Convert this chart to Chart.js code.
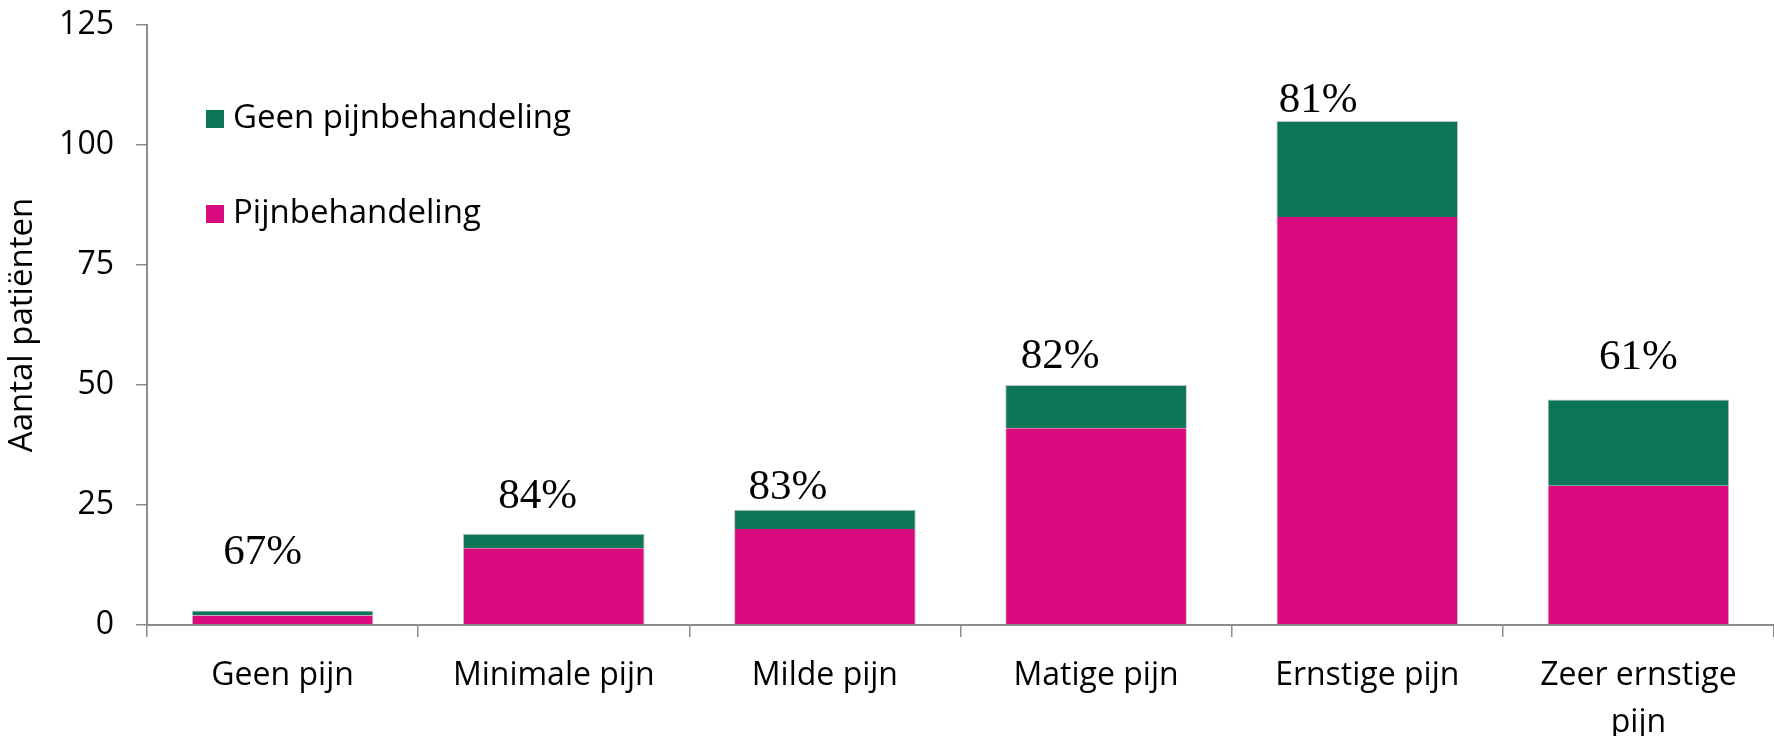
<!DOCTYPE html>
<html>
<head>
<meta charset="utf-8">
<script src="https://cdn.jsdelivr.net/npm/chart.js@4/dist/chart.umd.min.js"></script>
<style>
  html, body { margin: 0; padding: 0; background: #fff; }
  #wrap { width: 1774px; height: 736px; }
</style>
</head>
<body>
<div id="wrap"><canvas id="chart"></canvas></div>
<script>
// pijnscore-categorieën en aantallen patiënten
const CATEGORIES = ["Geen pijn", "Minimale pijn", "Milde pijn", "Matige pijn", "Ernstige pijn", ["Zeer ernstige", "pijn"]]
const PIJNBEHANDELING = [2, 16, 20, 41, 85, 29]
const GEEN_BEHANDELING = [1, 3, 4, 9, 20, 18]
const PERCENTAGES = ["67%", "84%", "83%", "82%", "81%", "61%"]
const Y_TICKS = [0, 25, 50, 75, 100, 125]

const PINK = "#da0b7f"
const GREEN = "#0c7557"
const AXIS = "#8c8c8c"
const EDGE = "#c6c6c6"
const SANS = "'Open Sans', sans-serif"

// percentage boven elke stapel; kleine verschuivingen per kolom in px
const pctLabels = {
  id: "pctLabels",
  afterDatasetsDraw(chart, args, opts) {
    const { ctx } = chart
    const top = chart.getDatasetMeta(1)
    ctx.save()
    ctx.font = "43px 'Liberation Serif', 'DejaVu Serif', serif"
    ctx.fillStyle = "#000"
    ctx.textAlign = "center"
    ctx.textBaseline = "middle"
    top.data.forEach((bar, i) => {
      const [dx, dy] = opts.nudge[i]
      ctx.fillText(PERCENTAGES[i], bar.x + dx, bar.y - dy)
    })
    ctx.restore()
  },
}

// legenda binnen het plotvlak, groen boven roze
const innerLegend = {
  id: "innerLegend",
  afterDraw(chart) {
    const { ctx } = chart
    const items = [chart.data.datasets[1], chart.data.datasets[0]]
    ctx.save()
    ctx.font = "33px " + SANS
    ctx.textBaseline = "middle"
    items.forEach((ds, i) => {
      const y = 119 + i * 95
      ctx.fillStyle = ds.backgroundColor
      ctx.fillRect(206, y - 9, 18, 18)
      ctx.fillStyle = "#000"
      ctx.fillText(ds.label, 233, y)
    })
    ctx.restore()
  },
}

new Chart(document.getElementById("chart"), {
  type: "bar",
  data: {
    labels: CATEGORIES,
    datasets: [
      {
        label: "Pijnbehandeling",
        data: PIJNBEHANDELING,
        backgroundColor: PINK,
        borderColor: EDGE,
        borderWidth: { left: 1, right: 1, top: 0, bottom: 0 },
        borderSkipped: false,
      },
      {
        label: "Geen pijnbehandeling",
        data: GEEN_BEHANDELING,
        backgroundColor: GREEN,
        borderColor: EDGE,
        borderWidth: { left: 1, right: 1, top: 1, bottom: 0 },
        borderSkipped: false,
      },
    ],
  },
  options: {
    responsive: true,
    maintainAspectRatio: false,
    animation: false,
    layout: { padding: { top: 25, right: 0, left: 0, bottom: 0 } },
    datasets: { bar: { categoryPercentage: 1, barPercentage: 0.67 } },
    plugins: {
      legend: { display: false },
      tooltip: { enabled: false },
      pctLabels: { nudge: [[-20, 58], [-16, 37], [-37, 22], [-36, 28], [-49, 20], [0, 42]] },
    },
    scales: {
      x: {
        stacked: true,
        grid: { offset: true, drawOnChartArea: false, drawTicks: true, tickLength: 12, color: AXIS, lineWidth: 1.5 },
        border: { color: AXIS, width: 2 },
        ticks: { color: "#000", font: { family: SANS, size: 32, lineHeight: 1.45 }, padding: 16, maxRotation: 0, autoSkip: false },
        afterFit: (s) => { s.height = 111 },
      },
      y: {
        stacked: true,
        min: 0,
        max: 125,
        afterBuildTicks: (s) => { s.ticks = Y_TICKS.map((v) => ({ value: v })) },
        grid: { drawOnChartArea: false, drawTicks: true, tickLength: 11, color: AXIS, lineWidth: 1.5 },
        border: { color: AXIS, width: 2 },
        // kleine lineHeight zodat het bovenste label geen extra marge boven de as vraagt
        ticks: { color: "#000", font: { family: SANS, size: 32, lineHeight: 0.1 }, padding: 22 },
        title: {
          display: true,
          text: "Aantal patiënten",
          color: "#000",
          font: { family: SANS, size: 33 },
          padding: { top: 3, bottom: 0 },
        },
        afterFit: (s) => { s.width = 147 },
      },
    },
  },
  plugins: [pctLabels, innerLegend],
})
</script>
</body>
</html>
